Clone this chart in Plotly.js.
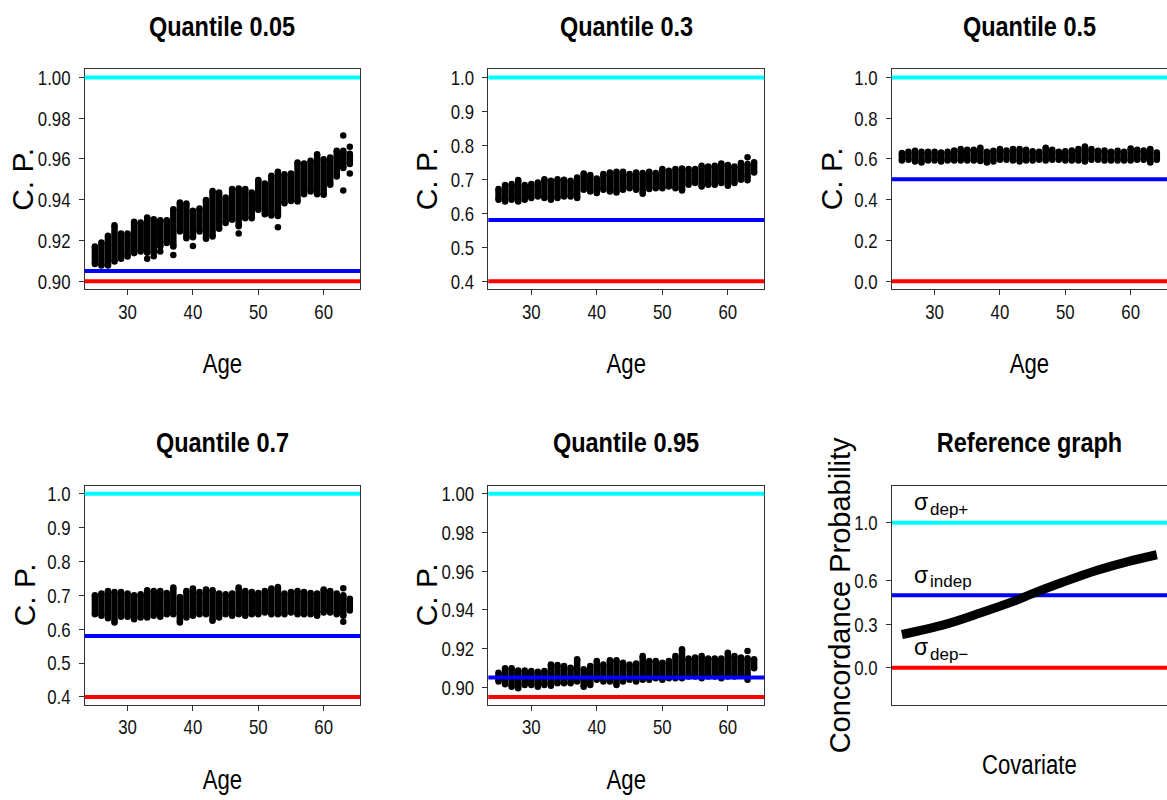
<!DOCTYPE html>
<html><head><meta charset="utf-8">
<script src="https://cdn.plot.ly/plotly-3.0.1.min.js"></script>
<style>html,body{margin:0;padding:0;background:#fff;overflow:hidden}#chart{width:1167px;height:800px}</style>
</head><body><div id="chart"></div>
<script>
const ages = [25,26,27,28,29,30,31,32,33,34,35,36,37,38,39,40,41,42,43,44,45,46,47,48,49,50,51,52,53,54,55,56,57,58,59,60,61,62,63,64];

const q05Lo = [0.9084,0.9077,0.9077,0.9097,0.9110,0.9121,0.9137,0.9146,0.9140,0.9140,0.9170,0.9187,0.9170,0.9244,0.9211,0.9215,0.9244,0.9208,0.9219,0.9257,0.9285,0.9301,0.9270,0.9309,0.9309,0.9350,0.9329,0.9322,0.9320,0.9383,0.9394,0.9391,0.9427,0.9440,0.9427,0.9424,0.9473,0.9514,0.9555,0.9575];
const q05Hi = [0.9170,0.9190,0.9223,0.9275,0.9234,0.9234,0.9291,0.9288,0.9313,0.9304,0.9299,0.9299,0.9353,0.9386,0.9381,0.9345,0.9357,0.9398,0.9443,0.9435,0.9411,0.9452,0.9455,0.9452,0.9435,0.9496,0.9479,0.9517,0.9537,0.9525,0.9529,0.9582,0.9578,0.9591,0.9623,0.9599,0.9607,0.9640,0.9640,0.9625];
const q05OutAge = [33,34,35,37,40,47,53,63,63,64,64];
const q05OutVal = [0.9110,0.9122,0.9145,0.9128,0.9172,0.9234,0.9265,0.9715,0.9445,0.9660,0.9528];

const q30Lo = [0.6397,0.6347,0.6397,0.6347,0.6397,0.6446,0.6495,0.6446,0.6397,0.6446,0.6495,0.6495,0.6446,0.6691,0.6642,0.6593,0.6691,0.6642,0.6613,0.6691,0.6740,0.6691,0.6573,0.6711,0.6740,0.6740,0.6789,0.6740,0.6672,0.6838,0.6888,0.6789,0.6838,0.6838,0.6888,0.6809,0.6888,0.6986,0.7050,0.7200];
const q30Hi = [0.6711,0.6829,0.6858,0.6976,0.6829,0.6858,0.6907,0.7005,0.6956,0.7005,0.6986,0.6956,0.7055,0.7172,0.7123,0.7025,0.7153,0.7202,0.7221,0.7221,0.7153,0.7202,0.7182,0.7221,0.7182,0.7300,0.7251,0.7300,0.7320,0.7300,0.7300,0.7398,0.7379,0.7398,0.7467,0.7418,0.7379,0.7477,0.7450,0.7500];
const q30OutAge = [63,63];
const q30OutVal = [0.7650,0.6970];

const q50Lo = [0.5925,0.5958,0.5876,0.5827,0.5925,0.5925,0.5876,0.5925,0.5925,0.5925,0.5925,0.5925,0.5893,0.5827,0.5876,0.5958,0.5958,0.5925,0.5876,0.5925,0.5925,0.5958,0.5925,0.5958,0.5958,0.5925,0.5925,0.5925,0.5876,0.5958,0.5958,0.5925,0.5925,0.5925,0.5925,0.5925,0.5958,0.5958,0.5827,0.5958];
const q50Hi = [0.6285,0.6351,0.6400,0.6351,0.6351,0.6351,0.6318,0.6351,0.6416,0.6482,0.6449,0.6449,0.6547,0.6351,0.6400,0.6482,0.6416,0.6482,0.6482,0.6449,0.6383,0.6351,0.6547,0.6449,0.6351,0.6383,0.6416,0.6482,0.6612,0.6482,0.6400,0.6416,0.6351,0.6400,0.6351,0.6514,0.6449,0.6416,0.6482,0.6318];
const q50OutAge = [];
const q50OutVal = [];

const q70Lo = [0.6443,0.6394,0.6326,0.6198,0.6365,0.6365,0.6296,0.6345,0.6345,0.6394,0.6365,0.6443,0.6443,0.6198,0.6345,0.6394,0.6443,0.6443,0.6247,0.6345,0.6443,0.6394,0.6443,0.6394,0.6443,0.6443,0.6492,0.6443,0.6443,0.6443,0.6492,0.6443,0.6443,0.6443,0.6394,0.6492,0.6492,0.6443,0.6400,0.6550];
const q70Hi = [0.7003,0.7052,0.7131,0.7101,0.7101,0.7052,0.7003,0.7033,0.7150,0.7131,0.7131,0.7072,0.7229,0.6954,0.7131,0.7200,0.7101,0.7170,0.7150,0.7052,0.7033,0.7052,0.7229,0.7131,0.7101,0.7072,0.7131,0.7200,0.7249,0.7052,0.7101,0.7131,0.7101,0.7072,0.7052,0.7170,0.7131,0.7052,0.7000,0.6900];
const q70OutAge = [63,63];
const q70OutVal = [0.7210,0.6220];

const q95Lo = [0.9029,0.9015,0.9003,0.8995,0.9012,0.9012,0.9003,0.9012,0.9008,0.9020,0.9020,0.9020,0.9029,0.9003,0.9012,0.9038,0.9029,0.9029,0.9012,0.9029,0.9038,0.9029,0.9038,0.9038,0.9046,0.9038,0.9046,0.9046,0.9046,0.9055,0.9055,0.9046,0.9055,0.9055,0.9046,0.9055,0.9055,0.9063,0.9060,0.9098];
const q95Hi = [0.9075,0.9098,0.9098,0.9087,0.9087,0.9084,0.9080,0.9084,0.9118,0.9115,0.9110,0.9101,0.9144,0.9093,0.9110,0.9136,0.9118,0.9139,0.9139,0.9127,0.9118,0.9122,0.9161,0.9136,0.9136,0.9127,0.9136,0.9161,0.9196,0.9149,0.9153,0.9161,0.9149,0.9149,0.9149,0.9178,0.9161,0.9153,0.9150,0.9144];
const q95OutAge = [63,63];
const q95OutVal = [0.9187,0.9038];

const refCov = [0.0, 0.17, 0.31, 0.44, 0.51, 0.63, 0.76, 0.89, 1.0];
const refCP  = [0.23, 0.30, 0.38, 0.46, 0.51, 0.59, 0.67, 0.735, 0.78];

const panelTitles = ['Quantile 0.05','Quantile 0.3','Quantile 0.5','Quantile 0.7','Quantile 0.95','Reference graph'];
const yTitles = ['C. P.','C. P.','C. P.','C. P.','C. P.','Concordance Probability'];
const xTitles = ['Age','Age','Age','Age','Age','Covariate'];
const cyanLevel = [1.0, 1.0, 1.0, 1.0, 1.0, 1.0];
const blueLevel = [0.905, 0.58, 0.5, 0.58, 0.905, 0.5];
const redLevel  = [0.90, 0.40, 0.0, 0.40, 0.895, 0.0];
const sigmaSymbol = ['σ','σ','σ'];
const sigmaSub = ['dep+','indep','dep−'];
const sigmaY = [1.1, 0.6, 0.1];
const sigmaX = [0.055, 0.055, 0.055];

const yTicks = [
  [0.90,0.92,0.94,0.96,0.98,1.00],
  [0.4,0.5,0.6,0.7,0.8,0.9,1.0],
  [0.0,0.2,0.4,0.6,0.8,1.0],
  [0.4,0.5,0.6,0.7,0.8,0.9,1.0],
  [0.90,0.92,0.94,0.96,0.98,1.00],
  [0.0,0.3,0.6,1.0]
];
const yFormats = ['.2f','.1f','.1f','.1f','.2f','.1f'];
const xTicks = [30,40,50,60];

const SANS = '"Liberation Sans", Arial, Helvetica, sans-serif';

// layout geometry (pixels)
const W = 1167, H = 800;
const colPx = [[84.7,360],[488.3,764.3],[891.7,1167]];
const rowPx = [[69.3,289.3],[485.7,705]];
const titleYPx = [27, 443];
const yTitleXPx = [[22.5, 426, 831],[24, 426, 840]];
const yTitleSize = [30, 30, 30, 30, 30, 29];
const yRanges = [[0.896,1.004],[0.376,1.024],[-0.04,1.04],[0.376,1.024],[0.8908,1.0042],[-0.256,1.256]];

const panels = [
  {lo:q05Lo, hi:q05Hi, oa:q05OutAge, ov:q05OutVal},
  {lo:q30Lo, hi:q30Hi, oa:q30OutAge, ov:q30OutVal},
  {lo:q50Lo, hi:q50Hi, oa:q50OutAge, ov:q50OutVal},
  {lo:q70Lo, hi:q70Hi, oa:q70OutAge, ov:q70OutVal},
  {lo:q95Lo, hi:q95Hi, oa:q95OutAge, ov:q95OutVal}
];

const traces = [];
const layout = {
  width: W, height: H, margin: {l:0,r:0,t:0,b:0},
  paper_bgcolor: '#fff', plot_bgcolor: '#fff', showlegend: false,
  font: {family: SANS, color: '#000', size: 21},
  shapes: [], annotations: []
};
const titleIdx = [];

for (let p = 0; p < 6; p++) {
  const r = Math.floor(p/3), c = p % 3;
  const sfx = p === 0 ? '' : String(p+1);
  const xa = 'x' + sfx, ya = 'y' + sfx;
  const xd = [colPx[c][0]/W, Math.min(1, colPx[c][1]/W)];
  const yd = [1 - rowPx[r][1]/H, 1 - rowPx[r][0]/H];
  const isRef = p === 5;
  layout['xaxis' + sfx] = {
    domain: xd, anchor: ya,
    range: isRef ? [-0.04, 1.04] : [23.44, 65.56],
    showgrid: false, zeroline: false,
    showline: true, mirror: true, linecolor: '#333', linewidth: 1,
    ticks: isRef ? '' : 'outside', ticklen: 5, tickcolor: '#333',
    tickvals: isRef ? [] : xTicks, showticklabels: !isRef,
    ticklabelstandoff: -2,
    tickfont: {family: SANS, size: 21, color: '#111'},
    title: {text: xTitles[p], font: {family: SANS, size: 27, color: '#000'}, standoff: isRef ? 50 : 32}
  };
  layout['yaxis' + sfx] = {
    domain: yd, anchor: xa,
    range: yRanges[p],
    showgrid: false, zeroline: false,
    showline: true, mirror: c === 2 ? false : true, linecolor: '#333', linewidth: 1,
    ticks: 'outside', ticklen: 5, tickcolor: '#333',
    tickvals: yTicks[p], tickformat: yFormats[p],
    ticklabelstandoff: 4,
    tickfont: {family: SANS, size: 21, color: '#111'}
  };
  // panel title
  titleIdx.push(layout.annotations.length);
  layout.annotations.push({
    xref: 'paper', yref: 'paper',
    x: (colPx[c][0] + colPx[c][1]) / 2 / W,
    y: 1 - titleYPx[r] / H,
    xanchor: 'center', yanchor: 'middle', showarrow: false,
    text: panelTitles[p],
    font: {family: SANS, size: 27, color: '#000', weight: 'bold'}
  });
  // y-axis title (rotated)
  layout.annotations.push({
    xref: 'paper', yref: 'paper',
    x: yTitleXPx[r][c] / W,
    y: 1 - (rowPx[r][0] + rowPx[r][1]) / 2 / H,
    xanchor: 'center', yanchor: 'middle', showarrow: false, textangle: -90,
    text: yTitles[p],
    font: {family: SANS, size: yTitleSize[p], color: '#000'}
  });
  // horizontal reference lines
  [[cyanLevel[p], '#00FFFF'], [blueLevel[p], '#0000FF'], [redLevel[p], '#FF0000']].forEach(([lv, col]) => {
    layout.shapes.push({
      type: 'line', xref: xa + ' domain', yref: ya,
      x0: 0, x1: 1, y0: lv, y1: lv,
      line: {color: col, width: 4},
      layer: isRef ? 'below' : 'above'
    });
  });

  if (!isRef) {
    const d = panels[p];
    const sx = [], sy = [];
    ages.forEach((a, i) => { sx.push(a, a, null); sy.push(d.lo[i], d.hi[i], null); });
    traces.push({
      type: 'scatter', mode: 'lines+markers', x: sx, y: sy, xaxis: xa, yaxis: ya,
      connectgaps: false, line: {color: '#000', width: 6.5},
      marker: {color: '#000', size: 6.5}
    });
    if (d.oa.length) {
      traces.push({
        type: 'scatter', mode: 'markers', x: d.oa, y: d.ov, xaxis: xa, yaxis: ya,
        marker: {color: '#000', size: 6.5}
      });
    }
  } else {
    traces.push({
      type: 'scatter', mode: 'lines', x: refCov, y: refCP, xaxis: xa, yaxis: ya,
      line: {color: '#000', width: 9, shape: 'spline'}
    });
    sigmaSymbol.forEach((s, i) => {
      layout.annotations.push({
        xref: xa, yref: ya, x: sigmaX[i], y: sigmaY[i],
        xanchor: 'right', yanchor: 'middle', showarrow: false, xshift: 13, yshift: 6,
        borderpad: 0, text: s, font: {family: SANS, size: 23, color: '#000'}
      });
      layout.annotations.push({
        xref: xa, yref: ya, x: sigmaX[i], y: sigmaY[i],
        xanchor: 'left', yanchor: 'middle', showarrow: false, xshift: 13.5, yshift: -1,
        borderpad: 0, text: sigmaSub[i], font: {family: SANS, size: 17, color: '#000'}
      });
    });
  }
}

function squeeze(nodes, f) {
  nodes.forEach(t => {
    const L = t.getComputedTextLength();
    if (L > 0) {
      t.setAttribute('textLength', (L * f).toFixed(2));
      t.setAttribute('lengthAdjust', 'spacingAndGlyphs');
    }
  });
}

Plotly.newPlot('chart', traces, layout, {displayModeBar: false, staticPlot: true}).then(() => {
  const root = document.getElementById('chart');
  squeeze(root.querySelectorAll('g[class$="tick"] > text'), 0.8);
  squeeze(root.querySelectorAll('text[class$="title"]'), 0.82);
  titleIdx.forEach(i => squeeze(root.querySelectorAll('g.annotation[data-index="' + i + '"] text.annotation-text'), 0.87));
});
</script>
</body></html>
